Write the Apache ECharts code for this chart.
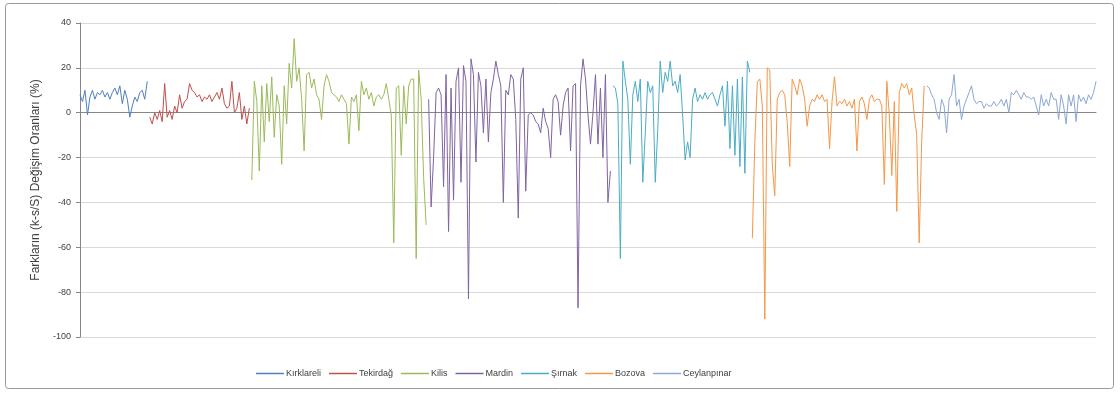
<!DOCTYPE html>
<html>
<head>
<meta charset="utf-8">
<script src="https://cdn.jsdelivr.net/npm/echarts@6/dist/echarts.min.js"></script>
<style>
html,body{margin:0;padding:0;background:#fff;}
#chart{width:1120px;height:394px;}
</style>
</head>
<body>
<div id="chart"></div>
<script>
var seriesNames = ["Kırklareli","Tekirdağ","Kilis","Mardin","Şırnak","Bozova","Ceylanpınar"];
var seriesColors = ["#4F81BD","#C0504D","#9BBB59","#8064A2","#4BACC6","#F79646","#8DA7D4"];

var kirklareli = [8,5,10,-1,7,10,6,9,8,10,7,9,6,9,11,8,12,4,10,6,-2,3,7,5,9,10,6,14];
var tekirdag = [-2,-5,0,-3,1,-4,13,-2,1,-3,3,0,8,2,5,6,13,10,9,7,8,5,7,6,8,5,7,9,6,11,4,2,3,14,0,2,9,-3,3,-5,2];
var kilis = [-30,14,5,-26,12,-13,13,-4,16,-11,8,3,-23,12,-5,22,11,33,14,20,6,-17,17,18,11,15,8,6,-3,12,17,14,9,8,7,5,8,6,4,-14,7,5,8,-8,14,8,11,6,9,3,7,8,6,8,13,6,-1,-58,11,12,-19,12,-5,12,15,15,-65,19,6,-29,-50];
var mardin = [6,-42,-20,9,11,8,-33,17,-53,11,-39,14,20,-31,21,14,-83,24,17,-22,18,12,-9,15,-13,9,15,23,17,12,-40,10,8,17,15,-3,-47,15,20,-35,-1,0,-1,-4,-5,-9,2,-4,-7,-20,6,8,5,-10,3,9,11,-17,12,13,-87,12,24,15,-1,-14,0,17,-14,11,-20,17,-40,-26];
var sirnak = [12,11,4,-65,23,14,6,-23,8,14,5,15,-31,-9,14,9,12,-31,-8,23,9,18,14,23,12,14,9,17,-1,-21,-13,-20,6,11,5,8,6,9,6,8,9,6,3,8,12,-6,14,-16,12,-19,15,-24,16,-27,23,18];
var bozova = [-56,-13,14,15,3,-92,20,19,-23,-37,6,9,10,8,-4,-24,15,12,8,15,12,6,-6,3,6,5,8,6,8,5,6,-16,5,16,3,5,4,6,3,5,2,6,-17,5,7,4,-3,6,8,5,6,6,3,-32,14,-1,-28,5,-44,9,13,11,13,8,11,-1,-10,-58,-13,12];
var ceylanpinar = [12,11,8,6,0,-3,6,3,-9,6,8,17,3,6,-3,3,6,9,12,6,4,5,5,2,4,3,3,5,3,4,6,3,6,0,9,8,10,8,6,9,7,7,6,7,3,-1,8,3,6,3,9,6,6,-3,8,3,-5,8,3,8,-4,8,5,7,4,8,6,9,14];

var yTicks = [-100,-80,-60,-40,-20,0,20,40];
var yTitle = "Farkların (k-s/S) Değişim Oranları (%)";

var allValues = [kirklareli,tekirdag,kilis,mardin,sirnak,bozova,ceylanpinar];
var offset = 0;
var series = [];
allValues.forEach(function(arr, k){
  var data = arr.map(function(v, i){ return [offset + i, v]; });
  offset += arr.length;
  series.push({
    name: seriesNames[k],
    type: 'line',
    data: data,
    showSymbol: false,
    symbol: 'none',
    lineStyle: {width: 1, color: seriesColors[k]},
    itemStyle: {color: seriesColors[k]},
    animation: false
  });
});
var total = offset;

var chart = echarts.init(document.getElementById('chart'), null, {renderer:'canvas'});
chart.setOption({
  backgroundColor: '#ffffff',
  animation: false,
  textStyle: {fontFamily: 'Liberation Sans, Arial, sans-serif'},
  graphic: [{
    type: 'rect',
    shape: {x: 5.5, y: 3.5, width: 1108, height: 385, r: 3},
    style: {fill: 'none', stroke: '#999999', lineWidth: 1},
    silent: true, z: -10
  }],
  grid: {left: 80, right: 24, top: 23, bottom: 57},
  legend: {
    data: seriesNames,
    left: 251,
    top: 364,
    icon: 'rect',
    itemWidth: 28,
    itemHeight: 1.5,
    itemGap: 8,
    textStyle: {fontSize: 9, color: '#404040', padding: [0,0,0,-3]},
  },
  xAxis: {
    type: 'value',
    min: 0,
    max: total - 1,
    axisLine: {show: true, onZero: true, lineStyle: {color: '#868686', width: 1}},
    axisTick: {show: false},
    axisLabel: {show: false},
    splitLine: {show: false}
  },
  yAxis: {
    type: 'value',
    min: yTicks[0],
    max: yTicks[yTicks.length - 1],
    interval: 20,
    name: yTitle,
    nameLocation: 'middle',
    nameGap: 38,
    nameRotate: 90,
    nameTextStyle: {fontSize: 12, color: '#404040'},
    axisLine: {show: true, lineStyle: {color: '#868686'}},
    axisTick: {show: true, length: 4, lineStyle: {color: '#868686'}},
    axisLabel: {fontSize: 9, color: '#404040', margin: 9},
    splitLine: {show: true, lineStyle: {color: '#D9D9D9', width: 1}}
  },
  series: series
});
</script>
</body>
</html>
